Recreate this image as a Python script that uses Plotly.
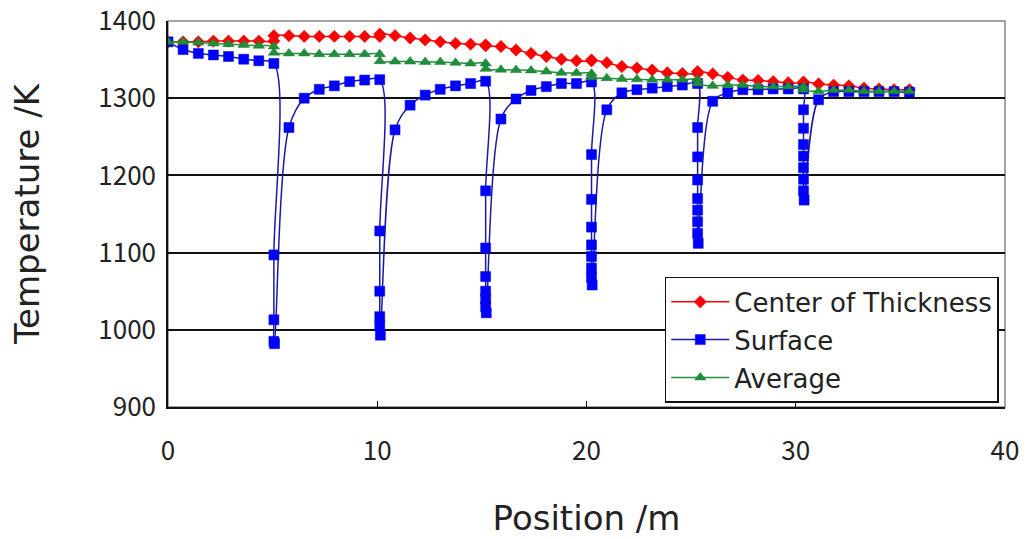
import plotly.graph_objects as go

# ---- data ----
center_x = [0, 0.72, 1.45, 2.17, 2.89, 3.62, 4.34, 5.06, 5.06, 5.78, 6.51, 7.23, 7.95, 8.68, 9.40,
            10.12, 10.12, 10.85, 11.57, 12.29, 13.01, 13.74, 14.46, 15.18, 15.18, 15.91, 16.63, 17.35,
            18.08, 18.80, 19.52, 20.24, 20.24, 20.97, 21.69, 22.41, 23.14, 23.86, 24.58, 25.31, 25.31,
            26.03, 26.75, 27.47, 28.20, 28.92, 29.64, 30.37, 30.37, 31.09, 31.81, 32.54, 33.26, 33.98,
            34.70, 35.43]
center_y = [1373, 1373, 1373, 1374, 1374, 1374, 1374, 1374, 1381, 1381, 1380, 1380, 1380, 1380, 1380,
            1380, 1383, 1381, 1378, 1375.5, 1373, 1371, 1370, 1369, 1368, 1367, 1362.5, 1358,
            1354, 1350.5, 1348.5, 1348.5, 1349.5, 1346, 1341, 1339, 1336.5, 1333, 1332, 1332, 1334.5,
            1331.5, 1327, 1323.5, 1323, 1321.5, 1320, 1320, 1321, 1318.5, 1317, 1316, 1313, 1312,
            1311, 1311]

average_x = center_x
average_y = [1373, 1373, 1372, 1371, 1370, 1369, 1368, 1367, 1359, 1358, 1358, 1357, 1357, 1357, 1357,
             1357, 1348, 1347.5, 1347.5, 1347, 1347, 1346, 1345, 1345, 1338, 1337, 1336.5, 1336,
             1334.5, 1333, 1332.5, 1332, 1327, 1326, 1325, 1324.5, 1324, 1324, 1324, 1324, 1319,
             1316, 1317, 1317, 1315, 1315, 1315, 1315, 1311, 1309, 1310.5, 1310.5, 1309, 1309,
             1309, 1309]

surface_x = [0, 0.72, 1.45, 2.17, 2.89, 3.62, 4.34,
             5.06, 5.06, 5.06, 5.06, 5.09,
             5.78, 6.51, 7.23, 7.95, 8.68, 9.40,
             10.12, 10.12, 10.12, 10.12, 10.12, 10.15,
             10.85, 11.57, 12.29, 13.01, 13.74, 14.46,
             15.18, 15.18, 15.18, 15.18, 15.18, 15.18, 15.18, 15.21,
             15.91, 16.63, 17.35, 18.08, 18.80, 19.52,
             20.24, 20.24, 20.24, 20.24, 20.24, 20.24, 20.24, 20.24, 20.27,
             20.97, 21.69, 22.41, 23.14, 23.86, 24.58,
             25.31, 25.31, 25.31, 25.31, 25.31, 25.31, 25.31, 25.31, 25.34,
             26.03, 26.75, 27.47, 28.20, 28.92, 29.64,
             30.37, 30.37, 30.37, 30.37, 30.37, 30.37, 30.37, 30.37, 30.40,
             31.09, 31.81, 32.54, 33.26, 33.98, 34.70, 35.43]
surface_y = [1373, 1363, 1358, 1356, 1354, 1350.5, 1348.5,
             1345, 1097, 1013, 985, 982,
             1262, 1300, 1311.5, 1316, 1321.5, 1323.5,
             1324, 1128, 1050, 1017, 1005, 993,
             1259, 1291, 1304, 1311.5, 1316, 1319,
             1322, 1180, 1106, 1069, 1050, 1040, 1030, 1022,
             1273, 1299, 1310, 1315, 1319, 1319,
             1321, 1227, 1169, 1133, 1110, 1095, 1080, 1068, 1058,
             1285, 1307, 1311, 1313, 1315, 1317,
             1319, 1262, 1224, 1194, 1170, 1155, 1140, 1125, 1112,
             1296, 1307, 1311, 1311, 1312, 1312,
             1312, 1285, 1261, 1240, 1225, 1210, 1195, 1180, 1168,
             1298, 1308.5, 1308.5, 1308.5, 1308.5, 1308.5, 1308]

series_names = ["Center of Thickness", "Surface", "Average"]
x_ticks = [0, 10, 20, 30, 40]
y_ticks = [900, 1000, 1100, 1200, 1300, 1400]

FONT = "Noto Sans CJK JP, Noto Sans, sans-serif"
WIDE_FONT = "DejaVu Sans, sans-serif"
TXT = "#222222"

fig = go.Figure()
fig.add_trace(go.Scatter(
    x=center_x, y=center_y, name=series_names[0], mode="lines+markers",
    line=dict(color="#ff0000", width=1.5, shape="spline"),
    marker=dict(symbol="diamond", size=9.5, color="#ff0000", line=dict(color="#ee0000", width=0.5)),
    legendgroup="a"))
fig.add_trace(go.Scatter(
    x=surface_x, y=surface_y, name=series_names[1], mode="lines+markers",
    line=dict(color="#1a1aa8", width=1.5, shape="spline"),
    marker=dict(symbol="square", size=10, color="#0000ff", line=dict(color="#0000dd", width=0.5)),
    legendgroup="b"))
fig.add_trace(go.Scatter(
    x=average_x, y=average_y, name=series_names[2], mode="lines+markers",
    line=dict(color="#1f8f3a", width=1.5, shape="spline"),
    marker=dict(symbol="triangle-up", size=10, color="#1f8f3a", line=dict(color="#1a7a30", width=0.5)),
    legendgroup="c"))

fig.update_layout(
    width=1029, height=539,
    margin=dict(l=168, r=24, t=21, b=132),
    paper_bgcolor="white", plot_bgcolor="white",
    font=dict(family=FONT, size=26, color=TXT),
    showlegend=True,
    legend=dict(
        x=0.5935, y=0.337, xanchor="left", yanchor="top",
        bgcolor="white", bordercolor="#111111", borderwidth=1.5,
        font=dict(family=WIDE_FONT, size=26, color=TXT),
        tracegroupgap=1, itemwidth=58,
    ),
    xaxis=dict(
        range=[0, 40], tickvals=x_ticks, ticktext=[str(v) for v in x_ticks],
        automargin=False,
        showgrid=False, zeroline=False,
        showline=True, linecolor="#111111", linewidth=1.5,
        ticks="inside", ticklen=6, tickcolor="#111111",
        ticklabelstandoff=20,
        title=dict(text="Position /m", font=dict(family=WIDE_FONT, size=34), standoff=40),
    ),
    yaxis=dict(
        range=[900, 1400], tickvals=y_ticks, ticktext=[str(v) for v in y_ticks],
        automargin=False,
        showgrid=True, gridcolor="#111111", gridwidth=1.5,
        zeroline=False,
        showline=True, linecolor="#111111", linewidth=1.5,
        ticks="", ticklabelstandoff=5,
        title=dict(text="Temperature /K", font=dict(family=WIDE_FONT, size=34), standoff=48),
    ),
)
# grey border for top and right of plot area
fig.add_shape(type="rect", xref="paper", yref="paper", x0=0, y0=0, x1=1, y1=1,
              line=dict(color="#888888", width=1.5), layer="below")

fig.write_html("out.html")
